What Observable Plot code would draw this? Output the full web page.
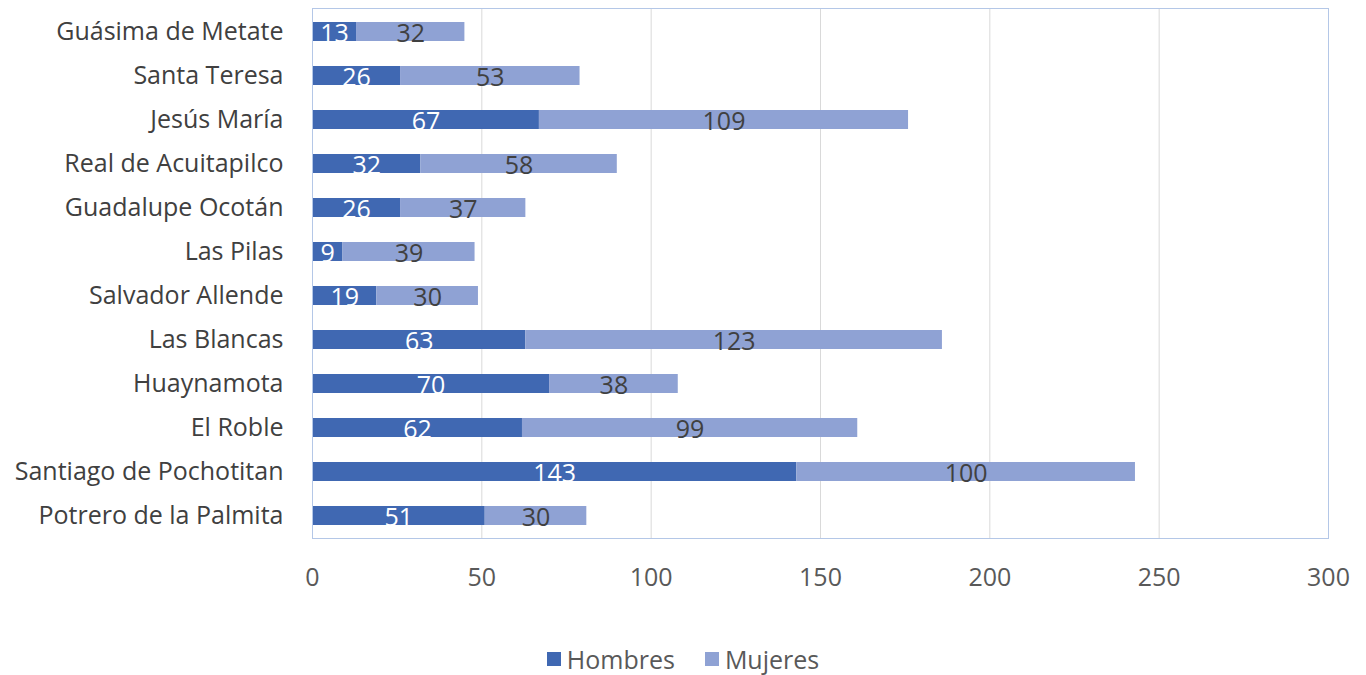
<!DOCTYPE html>
<html>
<head>
<meta charset="utf-8">
<script src="https://cdn.jsdelivr.net/npm/d3@7"></script>
<script src="https://cdn.jsdelivr.net/npm/@observablehq/plot@0.6"></script>
<style>
  body { margin: 0; background: #fff; font-family: "Open Sans", sans-serif; }
  #legend { display: flex; justify-content: center; gap: 30px; font-size: 25px; line-height: 34px; color: #595959; margin-top: 18px; padding-left: 0px; }
  #legend span.item { display: inline-flex; align-items: center; }
  #legend span.sw { width: 14px; height: 14px; display: inline-block; margin-right: 6px; }
</style>
</head>
<body>
<div id="chart"></div>
<div id="legend"></div>
<script>
const categories = ["Guásima de Metate", "Santa Teresa", "Jesús María", "Real de Acuitapilco", "Guadalupe Ocotán", "Las Pilas", "Salvador Allende", "Las Blancas", "Huaynamota", "El Roble", "Santiago de Pochotitan", "Potrero de la Palmita"];
const hombres = [13, 26, 67, 32, 26, 9, 19, 63, 70, 62, 143, 51];
const mujeres = [32, 53, 109, 58, 37, 39, 30, 123, 38, 99, 100, 30];
const seriesNames = ["Hombres", "Mujeres"];
const seriesColors = ["#4068b2", "#8fa2d4"];
const labelColors = ["#ffffff", "#404040"];
const xTicks = [0, 50, 100, 150, 200, 250, 300];

const data = [];
categories.forEach((c, i) => {
  data.push({cat: c, series: "Hombres", value: hombres[i]});
  data.push({cat: c, series: "Mujeres", value: mujeres[i]});
});

const chart = Plot.plot({
  width: 1366,
  height: 624,
  marginLeft: 312,
  marginRight: 38,
  marginTop: 8,
  marginBottom: 86,
  style: {fontFamily: "Open Sans, sans-serif", fontSize: "25px", color: "#595959", background: "#fff"},
  x: {domain: [0, 300], ticks: xTicks, label: null},
  y: {domain: categories, label: null, paddingInner: 0.57, paddingOuter: 0.285},
  color: {domain: seriesNames, range: seriesColors},
  marks: [
    Plot.gridX(xTicks, {stroke: "#d9d9d9", strokeOpacity: 1}),
    Plot.barX(data, Plot.stackX({x: "value", y: "cat", fill: "series", order: seriesNames})),
    Plot.text(data, Plot.stackX({
      x: "value", y: "cat", z: "series", order: seriesNames,
      text: d => String(d.value),
      fill: d => d.series === "Hombres" ? labelColors[0] : labelColors[1],
      fontSize: 25, dy: 2
    })),
    Plot.frame({stroke: "#b4c7e7", strokeOpacity: 1}),
    Plot.axisX({ticks: xTicks, tickSize: 0, tickPadding: 30, fontSize: 25, fill: "#595959", label: null}),
    Plot.axisY({tickSize: 0, tickPadding: 29, fontSize: 25, fill: "#404040", label: null})
  ]
});
document.getElementById("chart").appendChild(chart);

const legend = document.getElementById("legend");
seriesNames.forEach((s, i) => {
  const item = document.createElement("span");
  item.className = "item";
  const sw = document.createElement("span");
  sw.className = "sw";
  sw.style.background = seriesColors[i];
  item.appendChild(sw);
  item.appendChild(document.createTextNode(s));
  legend.appendChild(item);
});
</script>
</body>
</html>
